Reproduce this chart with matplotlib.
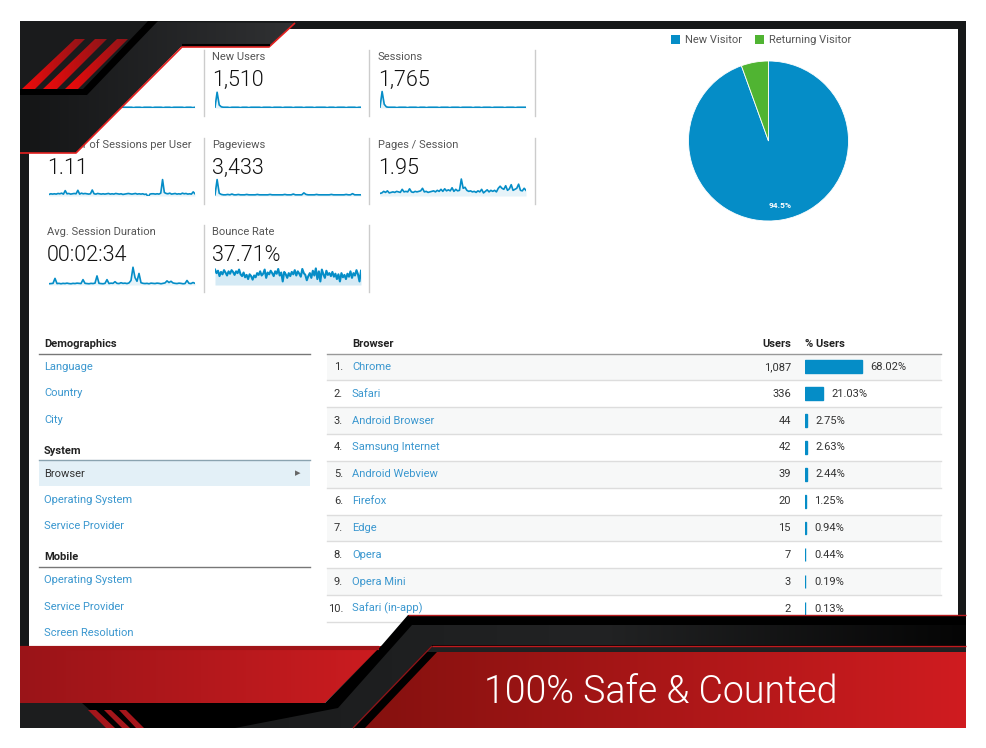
import numpy as np
import matplotlib
matplotlib.use("Agg")
import matplotlib.pyplot as plt
from matplotlib.patches import Polygon, Rectangle

W, H = 986, 748
plt.rcParams['font.family'] = ['Roboto', 'DejaVu Sans']

# ---------- data ----------
tile_titles = ["New Users", "Sessions", "Number of Sessions per User", "Pageviews", "Pages / Session",
               "Avg. Session Duration", "Bounce Rate"]
tile_values = ["1,510", "1,765", "1.11", "3,433", "1.95", "00:02:34", "37.71%"]

users_line = [2, 40, 9, 3, 2, 2, 2, 2, 1, 2, 2, 2, 1, 2, 2, 2, 2, 1, 2, 2, 2, 2, 2, 1, 2, 2, 2, 2, 1, 2, 2, 2, 2, 2, 1, 2,
              2, 2, 2, 2, 1, 2, 2, 2, 1, 2, 2, 2, 2, 1, 2, 2, 2, 2, 1, 2, 2, 2, 1, 2, 2, 2, 2, 2, 1, 2, 2, 2, 1, 2]
new_users_line = [2, 42, 8, 3, 2, 2, 2, 1, 2, 2, 2, 2, 1, 2, 2, 2, 1, 2, 2, 2, 2, 2, 1, 2, 2, 2, 2, 1, 2, 2, 2, 2, 1, 2, 2, 2,
                  2, 1, 2, 2, 2, 2, 1, 2, 2, 2, 2, 1, 2, 2, 2, 2, 2, 1, 2, 2, 2, 1, 2, 2, 2, 2, 1, 2, 2, 2, 2, 1, 2, 2]
sessions_line = [2, 44, 10, 3, 2, 2, 2, 2, 1, 2, 2, 2, 2, 1, 2, 2, 2, 2, 1, 2, 2, 2, 1, 2, 2, 2, 2, 2, 1, 2, 2, 2, 2, 1, 2, 2,
                 2, 2, 1, 2, 2, 2, 2, 2, 1, 2, 2, 2, 1, 2, 2, 2, 2, 1, 2, 2, 2, 2, 2, 1, 2, 2, 2, 2, 1, 2, 2, 2, 2, 2]
per_user_line = [1.08, 1.1, 1.09, 1.1, 1.09, 1.11, 1.1, 1.12, 1.09, 1.2, 1.1, 1.11, 1.09, 1.1, 1.11, 1.1, 1.21, 1.09, 1.12, 1.1, 1.11, 1.1,
                 1.09, 1.1, 1.22, 1.1, 1.09, 1.11, 1.1, 1.09, 1.1, 1.09, 1.1, 1.11, 1.09, 1.1, 1.09, 1.11, 1.1, 1.09, 1.1, 1.08, 1.09, 1.1,
                 1.11, 1.1, 1.09, 1.1, 1.11, 1.09, 1.1, 1.09, 1.1, 1.08, 1.09, 1.0, 1.09, 1.1, 1.1, 1.09, 1.1, 1.09, 1.12, 1.55,
                 1.14, 1.11, 1.1, 1.12, 1.09, 1.1, 1.11, 1.09, 1.1, 1.09, 1.12, 1.1, 1.11, 1.09, 1.1, 1.09, 1.16, 1.1]
pageviews_line = [3, 42, 7, 4, 3, 3, 4, 3, 5, 3, 3, 4, 3, 3, 3, 4, 3, 3, 3, 3, 4, 3, 3, 3, 3, 3, 4, 3, 3, 3, 3, 3, 3, 4, 3, 3, 3,
                  5, 3, 3, 3, 3, 8, 4, 3, 3, 3, 3, 4, 3, 3, 3, 3, 3, 3, 4, 3, 3, 3, 3, 3, 3, 4, 3, 3, 6, 3, 3, 3, 3]
pages_line = [1.7, 1.75, 1.9, 1.8, 1.95, 1.75, 1.8, 1.85, 1.8, 1.9, 1.85, 1.8, 2.1, 1.85, 1.9, 1.85, 2.15, 1.85, 1.8, 1.9, 1.85, 1.9, 1.95, 2.2, 1.85,
              1.9, 1.8, 1.85, 1.9, 1.95, 1.85, 2.0, 1.9, 2.1, 1.9, 2.15, 1.95, 2.05, 1.95, 2.25, 1.9, 2.1, 1.95, 2.0, 3.1, 2.2, 2.3, 2.0, 1.9, 1.95, 1.85, 1.9, 1.8,
              1.95, 1.85, 2.1, 1.75, 1.9, 2.05, 1.85, 2.0, 1.9, 2.0, 1.85, 2.2, 2.4, 2.2, 2.1, 2.45, 2.0, 2.15, 2.55, 2.0, 2.1, 2.2, 2.6, 2.0, 1.95, 2.2, 2.0]
duration_line = [10, 11, 12, 36, 11, 12, 10, 12, 11, 13, 11, 10, 12, 11, 13, 12, 11, 30, 12, 11, 10, 12, 11, 13, 48, 12, 11, 10, 12, 30, 11, 13, 12, 20, 12,
                 11, 15, 12, 13, 11, 14, 26, 90, 40, 22, 60, 15, 12, 11, 12, 10, 13, 12, 11, 13, 12, 10, 12, 14, 24, 16, 22, 14, 12, 11, 13, 12, 10, 11, 26, 12, 11, 16, 12]
bounce_line = [44, 38, 42, 33, 40, 36, 43, 39, 34, 41, 37, 43, 40, 35, 41, 38, 44, 36, 33, 39, 31, 35, 28, 36, 33, 27, 34, 31, 38, 35, 41, 34, 37, 44, 30,
               39, 36, 42, 38, 33, 41, 37, 45, 34, 39, 24, 40, 36, 30, 38, 33, 40, 36, 43, 34, 41, 37, 32, 45, 38, 35, 26, 33, 38, 30, 42, 34, 46, 28, 41,
               24, 44, 36, 30, 42, 35, 38, 33, 40, 32, 37, 28, 36, 24, 38, 31, 35, 28, 37, 32, 41, 30, 38, 34, 43, 36, 24, 42]

pie_labels = ["New Visitor", "Returning Visitor"]
pie_values = [94.5, 5.5]

browsers = ["Chrome", "Safari", "Android Browser", "Samsung Internet", "Android Webview", "Firefox", "Edge", "Opera", "Opera Mini", "Safari (in-app)"]
browser_users = ["1,087", "336", "44", "42", "39", "20", "15", "7", "3", "2"]
browser_pct = [68.02, 21.03, 2.75, 2.63, 2.44, 1.25, 0.94, 0.44, 0.19, 0.13]

# ---------- styles ----------
BLUE = "#058dc7"
GREEN = "#50b432"
LINK = "#3a97cf"
DARK = "#333333"
GREY = "#555555"

fig = plt.figure(figsize=(W / 100, H / 100), dpi=100, facecolor="white")


def px_axes(x, y, w, h, z):
    a = fig.add_axes([x / W, 1 - (y + h) / H, w / W, h / H], zorder=z)
    a.patch.set_alpha(0)
    a.axis("off")
    return a


base = px_axes(0, 0, W, H, 0)
base.set_xlim(0, W)
base.set_ylim(H, 0)

# ---------- tiles ----------
tile_pos = [(212, 56.5), (378, 56.5), (47, 144.5), (212, 144.5), (378, 144.5), (47, 231.5), (212, 231.5)]
for (x, y), t, v in zip(tile_pos, tile_titles, tile_values):
    base.text(x, y, t, fontsize=8, color=GREY, va="center")
    base.text(x, y + 23.5, v, fontsize=15.5, color="#111111", va="center", fontweight=300)
for x, y0, y1 in [(203.5, 50, 116), (369, 50, 116), (534.5, 50, 116),
                  (203.5, 138, 204), (369, 138, 204), (534.5, 138, 204),
                  (203.5, 225, 292), (369, 225, 292)]:
    base.plot([x, x], [y0, y1], color="#cccccc", lw=1)


def spark(x, y, w, h, vals, lo, hi, fill="#e6f3f9", lw=1.2):
    a = px_axes(x, y, w, h, 1)
    xs = np.arange(len(vals))
    a.fill_between(xs, lo, vals, color=fill, lw=0)
    a.plot(xs, vals, color=BLUE, lw=lw, solid_joinstyle="round")
    a.set_xlim(0, len(vals) - 1)
    a.set_ylim(lo, hi)


spark(49, 90, 146, 18, users_line, 0, 48)
spark(215, 90, 146, 18, new_users_line, 0, 48)
spark(380, 90, 146, 18, sessions_line, 0, 48)
spark(49, 178, 146, 18, per_user_line, 1.03, 1.60)
spark(215, 178, 146, 18, pageviews_line, 0, 46)
spark(380, 178, 146, 18, pages_line, 1.45, 3.2)
spark(49, 266, 146, 19, duration_line, 4, 96)
spark(215, 266, 146, 19, bounce_line, 18, 50, fill="#d5eaf5", lw=1.5)

# ---------- pie ----------
pa = px_axes(688.5, 61, 160, 160, 1)
pa.pie(pie_values, colors=[BLUE, GREEN], startangle=90, counterclock=False, radius=1,
       wedgeprops=dict(lw=0.6, edgecolor="white"))
pa.set_xlim(-1, 1)
pa.set_ylim(-1, 1)
pa.text(0.14, -0.80, f"{pie_values[0]}%", color="white", fontsize=6, fontweight="bold", ha="center", va="center")
for sx, tx, c, lab in [(675.5, 685, BLUE, pie_labels[0]), (759.5, 769, GREEN, pie_labels[1])]:
    base.add_patch(Rectangle((sx - 4.5, 34.5), 9, 9, color=c, lw=0))
    base.text(tx, 39.5, lab, fontsize=8, color=GREY, va="center")

# ---------- left menu ----------
base.text(44, 343.5, "Demographics", fontsize=8, fontweight="bold", color="#222222", va="center")
base.plot([39, 310], [353.5, 353.5], color="#777777", lw=1)
base.text(44, 450.5, "System", fontsize=8, fontweight="bold", color="#222222", va="center")
base.add_patch(Rectangle((39, 460), 271, 26, color="#e3f0f7", lw=0))
base.plot([39, 310], [460, 460], color="#8aa3b0", lw=1)
base.text(44, 473.5, "Browser", fontsize=8, color=DARK, va="center")
base.text(298, 473, "\u25b8", fontsize=8, color="#666666", va="center", ha="center", family="DejaVu Sans")
base.text(44, 556.5, "Mobile", fontsize=8, fontweight="bold", color="#222222", va="center")
base.plot([39, 310], [566.5, 566.5], color="#777777", lw=1)
for t, y in [("Language", 367), ("Country", 393), ("City", 419.5), ("Operating System", 499.5), ("Service Provider", 526),
             ("Operating System", 580), ("Service Provider", 606.5), ("Screen Resolution", 632.5)]:
    base.text(44, y, t, fontsize=8, color=LINK, va="center")

# ---------- table ----------
base.text(352, 343.5, "Browser", fontsize=8, fontweight="bold", color="#222222", va="center")
base.text(791, 343.5, "Users", fontsize=8, fontweight="bold", color="#222222", va="center", ha="right")
base.text(805, 343.5, "% Users", fontsize=8, fontweight="bold", color="#222222", va="center")
base.plot([327, 941], [353.5, 353.5], color="#999999", lw=1)
row_h = 26.85
top = 353.5
for i, (b, u) in enumerate(zip(browsers, browser_users)):
    y0 = top + i * row_h
    yc = y0 + row_h / 2
    if i % 2 == 0:
        base.add_patch(Rectangle((327, y0), 614, row_h, color="#f7f8f8", lw=0))
    base.plot([327, 941], [y0 + row_h, y0 + row_h], color="#dddddd", lw=1)
    base.text(343, yc, f"{i + 1}.", fontsize=8, color=DARK, va="center", ha="right")
    base.text(352, yc, b, fontsize=8, color=LINK, va="center")
    base.text(791, yc, u, fontsize=8, color=DARK, va="center", ha="right")

ba = px_axes(805, top, 136, row_h * 10, 1)
ypos = np.arange(len(browser_pct))
ba.barh(ypos, browser_pct, height=0.48, color=BLUE, edgecolor=BLUE, lw=1.0)
ba.set_xlim(0, 136 / 0.84)
ba.set_ylim(len(browser_pct) - 0.5, -0.5)
for yy, p in zip(ypos, browser_pct):
    ba.text(max(p, 2.75 if p > 2 else 0) + (10 if p > 2 else 11 - p), yy, f"{p:.2f}%", fontsize=8, color=DARK, va="center")

# ---------- decoration ----------
d = px_axes(0, 0, W, H, 5)
d.set_xlim(0, W)
d.set_ylim(H, 0)
FR = "#161819"
for r in [(20, 21, 946, 8), (20, 21, 9, 632), (958, 21, 8, 632)]:
    d.add_patch(Rectangle((r[0], r[1]), r[2], r[3], color=FR, lw=0))


def grad(poly, stops, x0, x1, z=6):
    cmap = matplotlib.colors.LinearSegmentedColormap.from_list("g", stops)
    im = d.imshow(np.linspace(0, 1, 256)[None, :], cmap=cmap, extent=(x0, x1, H, 0), aspect="auto", zorder=z)
    p = Polygon(poly, closed=True, transform=d.transData, fc="none", ec="none")
    d.add_patch(p)
    im.set_clip_path(p)


# top-left corner
grad([(20, 21), (295, 23), (269, 47), (181, 47), (76, 153), (20, 153)], ["#141516", "#303133"], 20, 295, z=6)
d.plot([295, 269, 182, 76, 20], [23, 47, 47, 153, 153], color="#e3201f", lw=1.2, zorder=7, solid_capstyle="butt")
d.plot([182, 270], [45, 45], color="#000000", lw=1.5, zorder=7, solid_capstyle="butt")
d.add_patch(Polygon([(20, 21), (148, 21), (83, 89), (20, 89)], color="#1a1b1c", lw=0, zorder=6.2))
d.add_patch(Polygon([(20, 95), (87, 95), (158, 21), (148, 21), (83, 89), (20, 89)], color="#000000", lw=0, zorder=7))
for s in [[(22, 89), (75, 39), (85, 39), (35, 89)], [(43, 89), (95, 39), (107, 39), (57, 89)], [(65, 89), (117, 39), (128, 39), (78, 89)]]:
    grad(s, ["#f00a0a", "#8c1519"], s[0][0], s[1][0] + 12, z=8)

# bottom band
grad([(20, 646), (382, 646), (325, 703), (20, 703)], ["#9a1418", "#cc1c20"], 20, 382, z=6)
d.add_patch(Polygon([(408, 615), (966, 615), (966, 728), (20, 728), (20, 703), (325, 703), (382, 645)], color="#000000", lw=0, zorder=6))
grad([(412, 625), (966, 625), (966, 645), (432, 645), (353, 728), (235, 728), (338, 708)],
     ["#1b1c1d", "#222324", "#050505"], 235, 966, z=6.1)
d.plot([408, 966], [615, 615], color="#b51a1e", lw=1, zorder=7, solid_capstyle="butt")
d.plot([20, 379], [648, 648], color="#a01418", lw=3, zorder=7, solid_capstyle="butt")
d.plot([432, 966], [645.5, 645.5], color="#c01a1e", lw=1, zorder=7, solid_capstyle="butt")
d.plot([432, 353], [646, 728], color="#8c1519", lw=1, zorder=7, solid_capstyle="butt")
d.add_patch(Polygon([(432, 646), (966, 646), (966, 652), (426, 652)], color="#1f2021", lw=0, zorder=6.2))
grad([(437, 652), (966, 652), (966, 728), (365, 728)], ["#85110f", "#d01c20"], 365, 966, z=6.5)
d.add_patch(Polygon([(20, 703), (82, 703), (110, 728), (20, 728)], color="#1c1d1e", lw=0, zorder=6.3))
for s in [[(88, 710), (96, 710), (115, 728), (106, 728)], [(104, 710), (111, 710), (130, 728), (122, 728)],
          [(119, 710), (126, 710), (144, 728), (136, 728)]]:
    d.add_patch(Polygon(s, color="#a5161b", lw=0, zorder=7))
d.set_xlim(0, W)
d.set_ylim(H, 0)

d.text(660.5, 692, "100% Safe & Counted", color="white", fontsize=27, ha="center", va="center", zorder=9,
       fontweight=300)

fig.savefig("out.png", dpi=100, facecolor="white")
